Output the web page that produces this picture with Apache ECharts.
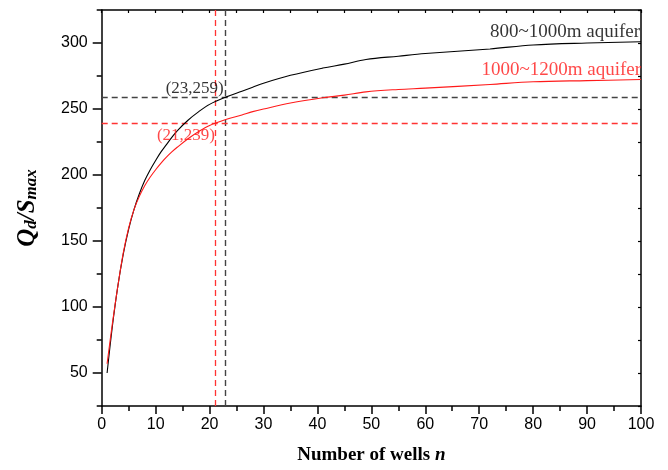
<!DOCTYPE html>
<html>
<head>
<meta charset="utf-8">
<script src="https://cdn.jsdelivr.net/npm/echarts@6/dist/echarts.min.js"></script>
<style>html,body{margin:0;padding:0;background:#fff;}#c{width:668px;height:470px;}</style>
</head>
<body>
<div id="c"></div>
<script>
// Data
var wellsN   = [1,2,3,4,5,6,7,8,9,10,11,12,13,14,16,18,20,23,26,28,30,35,41,45,49,55,60,72,80,90,100];
var aquifer1 = [50,86,116,140,159,174,186,196,204,211,217.5,223,228.5,233.5,241.5,248,253.5,259,263.5,266.5,269.5,275.5,281,284,287.5,290,292,295.5,298.5,300,301];
var aquifer2 = [57,88,116,141,160,174,184,192,198.5,204,209,213.5,217.5,221,227.5,233,237.5,242,245.5,248,250,254.5,258.5,260.5,263,264.8,265.8,268.6,270.6,271.5,272.3];
var seriesNames = ['800~1000m aquifer', '1000~1200m aquifer'];
var refPoint1 = [23, 259];
var refPoint2 = [21, 239];
var xTicks = [0,10,20,30,40,50,60,70,80,90,100];
var yTicks = [50,100,150,200,250,300];

function pairs(xs, ys){ return xs.map(function(x,i){ return [x, ys[i]]; }); }

var serif = 'Liberation Serif, Times New Roman, serif';
var sans = 'Liberation Sans, Arial, sans-serif';

var chart = echarts.init(document.getElementById('c'), null, {renderer:'canvas'});
var axisLine = {show:true, onZero:false, lineStyle:{color:'#000', width:1.5}};

chart.setOption({
  animation:false,
  backgroundColor:'#fff',
  grid:{left:101.7, right:27, top:10, bottom:61, containLabel:false},
  xAxis:[{
    type:'value', min:xTicks[0], max:xTicks[xTicks.length-1], interval:10,
    position:'bottom',
    axisLine:axisLine,
    axisTick:{show:true, length:8, inside:false, lineStyle:{color:'#000', width:1.5}},
    minorTick:{show:true, splitNumber:2, length:5, lineStyle:{color:'#000', width:1.5}},
    splitLine:{show:false},
    axisLabel:{fontFamily:sans, fontSize:16, color:'#000', margin:11},
    name:'{t|Number of wells }{i|n}', nameLocation:'middle', nameGap:40,
    nameTextStyle:{rich:{
      t:{fontFamily:serif, fontSize:19, fontWeight:'bold', color:'#000'},
      i:{fontFamily:serif, fontSize:19, fontWeight:'bold', fontStyle:'italic', color:'#000'}
    }}
  },{
    type:'value', min:xTicks[0], max:xTicks[xTicks.length-1], interval:10,
    position:'top',
    axisLine:axisLine,
    axisTick:{show:true, length:3, inside:true, lineStyle:{color:'#000', width:1.2}},
    minorTick:{show:true, splitNumber:2, length:3, lineStyle:{color:'#000', width:1.2}},
    splitLine:{show:false},
    axisLabel:{show:false}
  }],
  yAxis:[{
    type:'value', min:25, max:325, interval:25,
    position:'left',
    axisLine:axisLine,
    axisTick:{show:true, length:9, inside:false, customValues:yTicks, lineStyle:{color:'#000', width:1.5}},
    splitLine:{show:false},
    axisLabel:{fontFamily:sans, fontSize:16, color:'#000', margin:14, customValues:yTicks},
    name:'{a|Q}{b|d}{a|/S}{b|max}', nameLocation:'middle', nameGap:62, nameRotate:90,
    nameTextStyle:{rich:{
      a:{fontFamily:serif, fontSize:25, fontWeight:'bold', fontStyle:'italic', color:'#000', verticalAlign:'bottom'},
      b:{fontFamily:serif, fontSize:17, fontWeight:'bold', fontStyle:'italic', color:'#000', verticalAlign:'bottom', padding:[12,0,0,0]}
    }}
  },{
    type:'value', min:25, max:325, interval:25,
    position:'left',
    axisLine:{show:false},
    axisTick:{show:true, length:5, inside:false, lineStyle:{color:'#000', width:1.5}},
    splitLine:{show:false},
    axisLabel:{show:false}
  },{
    type:'value', min:25, max:325, interval:25,
    position:'right',
    axisLine:axisLine,
    axisTick:{show:true, length:3, inside:true, lineStyle:{color:'#000', width:1.2}},
    splitLine:{show:false},
    axisLabel:{show:false}
  }],
  series:[{
    name:seriesNames[0], type:'line', xAxisIndex:0, yAxisIndex:0,
    data:pairs(wellsN, aquifer1), showSymbol:false, smooth:0.35,
    lineStyle:{color:'#000', width:1.1}, z:5,
    markLine:{silent:true, symbol:'none', label:{show:false},
      lineStyle:{color:'#444', type:[6,4], width:1.4},
      data:[{xAxis:refPoint1[0]},{yAxis:refPoint1[1]}]}
  },{
    name:seriesNames[1], type:'line', xAxisIndex:0, yAxisIndex:0,
    data:pairs(wellsN, aquifer2), showSymbol:false, smooth:0.35,
    lineStyle:{color:'#ff1a1a', width:1.1}, z:5,
    markLine:{silent:true, symbol:'none', label:{show:false},
      lineStyle:{color:'#ff3333', type:[6,4], width:1.3},
      data:[{xAxis:refPoint2[0]},{yAxis:refPoint2[1]}]}
  },{
    type:'scatter', symbolSize:0, silent:true, z:10,
    data:[
      {value:refPoint1, label:{show:true, position:'left', offset:[3,-9], color:'#000',
        formatter:'(' + refPoint1[0] + ',' + refPoint1[1] + ')'}},
      {value:refPoint2, label:{show:true, position:'left', offset:[5,12.5], color:'#ff1a1a',
        formatter:'(' + refPoint2[0] + ',' + refPoint2[1] + ')'}},
      {value:[wellsN[wellsN.length-1], aquifer1[aquifer1.length-1]], label:{show:true, position:'left', offset:[4,-10], color:'#000', fontSize:19,
        formatter:seriesNames[0]}},
      {value:[wellsN[wellsN.length-1], aquifer2[aquifer2.length-1]], label:{show:true, position:'left', offset:[5,-10], color:'#ff1a1a', fontSize:19,
        formatter:seriesNames[1]}}
    ],
    label:{fontFamily:serif, fontSize:17}
  }]
});
</script>
</body>
</html>
